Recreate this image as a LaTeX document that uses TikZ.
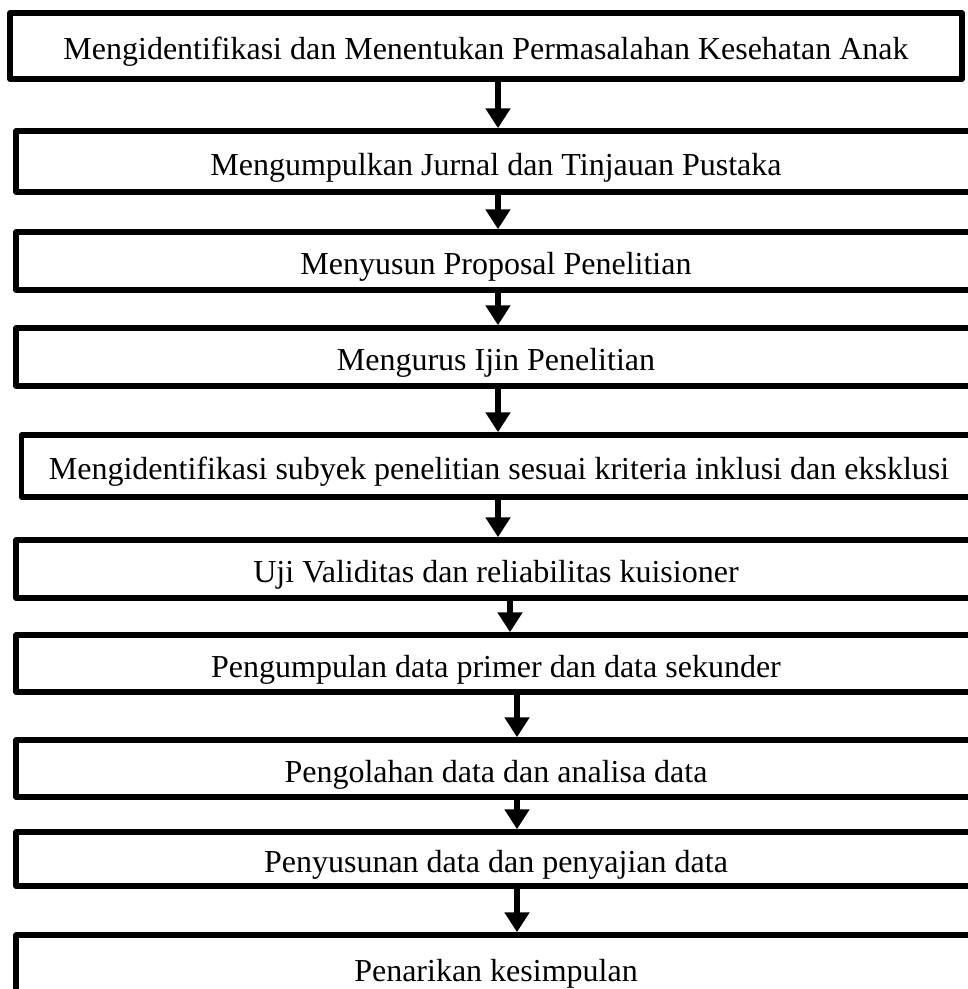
\documentclass[tikz,border=0pt]{standalone}
\usepackage{fontspec}
\setmainfont{Liberation Serif}
\usetikzlibrary{arrows.meta}

\begin{document}
\begin{tikzpicture}[x=1pt,y=-1pt,
    box/.style={draw,line width=5.5pt,line join=round,rectangle,inner sep=0pt,
      text height=34pt,text depth=7pt,font=\fontsize{32}{38}\selectfont},
    flow/.style={line width=6pt,-{Triangle[width=24pt,length=20pt]}}]
      \useasboundingbox (0,0) rectangle (968,989);
      \clip (0,0) rectangle (968,989);
      \node[box,minimum width=952pt,minimum height=66pt] (b1) at (486,46)
        {Mengidentifikasi dan Menentukan Permasalahan Kesehatan Anak};
      \node[box,minimum width=960pt,minimum height=61pt] (b2) at (496,161.5)
        {Mengumpulkan Jurnal dan Tinjauan Pustaka};
      \node[box,minimum width=960pt,minimum height=58pt] (b3) at (496,261)
        {Menyusun Proposal Penelitian};
      \node[box,minimum width=960pt,minimum height=58pt] (b4) at (496,357)
        {Mengurus Ijin Penelitian};
      \node[box,minimum width=955pt,minimum height=62pt] (b5) at (499,466)
        {Mengidentifikasi subyek penelitian sesuai kriteria inklusi dan eksklusi};
      \node[box,minimum width=960pt,minimum height=58pt] (b6) at (496,569)
        {Uji Validitas dan reliabilitas kuisioner};
      \node[box,minimum width=960pt,minimum height=57pt] (b7) at (496,663.5)
        {Pengumpulan data primer dan data sekunder};
      \node[box,minimum width=960pt,minimum height=57pt] (b8) at (496,768.5)
        {Pengolahan data dan analisa data};
      \node[box,minimum width=960pt,minimum height=54pt] (b9) at (496,859)
        {Penyusunan data dan penyajian data};
      \node[box,minimum width=960pt,minimum height=66pt] (b10) at (496,968)
        {Penarikan kesimpulan};
      \coordinate (c1) at (498,0);
      \coordinate (c2) at (510,0);
      \coordinate (c3) at (517,0);
      \draw[flow] (b1.south -| c1) -- (b2.north -| c1);
      \draw[flow] (b2.south -| c1) -- (b3.north -| c1);
      \draw[flow] (b3.south -| c1) -- (b4.north -| c1);
      \draw[flow] (b4.south -| c1) -- (b5.north -| c1);
      \draw[flow] (b5.south -| c1) -- (b6.north -| c1);
      \draw[flow] (b6.south -| c2) -- (b7.north -| c2);
      \draw[flow] (b7.south -| c3) -- (b8.north -| c3);
      \draw[flow] (b8.south -| c3) -- (b9.north -| c3);
      \draw[flow] (b9.south -| c3) -- (b10.north -| c3);
\end{tikzpicture}
\end{document}
